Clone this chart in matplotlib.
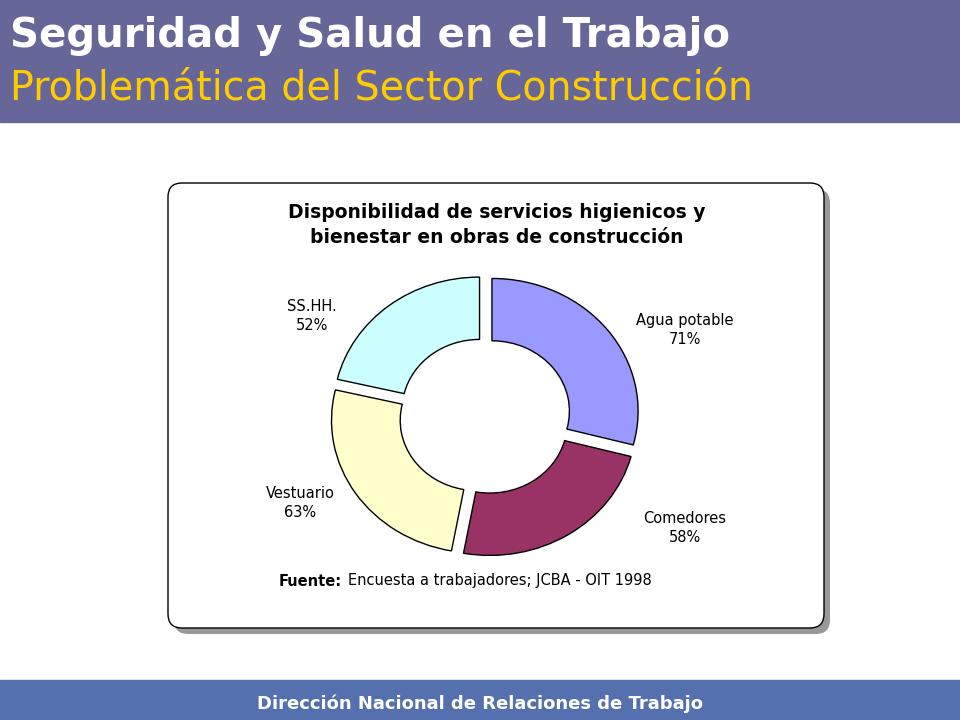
import matplotlib
matplotlib.use("Agg")
import matplotlib.pyplot as plt
from matplotlib.patches import FancyBboxPatch, Rectangle

categories = ["Agua potable", "Comedores", "Vestuario", "SS.HH."]
values = [71, 58, 63, 52]
colors = ["#9999FF", "#993366", "#FFFFCC", "#CCFFFF"]
label_pos = [(685, 330), (685, 528), (300, 503), (312, 316)]

W, H = 960, 720
fig = plt.figure(figsize=(9.6, 7.2), dpi=100)
bg = fig.add_axes([0, 0, 1, 1])
bg.set_xlim(0, W); bg.set_ylim(H, 0); bg.axis("off")
bg.add_patch(Rectangle((0, 0), W, 122, color="#666699"))
bg.add_patch(Rectangle((0, 680), W, 40, color="#5470AE"))
bg.text(10, 36, "Seguridad y Salud en el Trabajo", color="white", fontsize=29,
        fontweight="bold", va="center", family="DejaVu Sans")
bg.text(10, 89, "Problemática del Sector Construcción", color="#FFCC00", fontsize=28.5,
        va="center", family="DejaVu Sans")
bg.text(480, 704, "Dirección Nacional de Relaciones de Trabajo", color="white",
        fontsize=13, fontweight="bold", ha="center", va="center")
bg.add_patch(FancyBboxPatch((174, 189), 656, 445, boxstyle="round,pad=0,rounding_size=14",
                            fc="#999999", ec="none"))
bg.add_patch(FancyBboxPatch((168, 183), 656, 445, boxstyle="round,pad=0,rounding_size=14",
                            fc="white", ec="black", lw=1))
bg.text(497, 225, "Disponibilidad de servicios higienicos y\nbienestar en obras de construcción",
        ha="center", va="center", fontsize=13.5, fontweight="bold", linespacing=1.35)
bg.text(279, 581, "Fuente:", fontsize=10.5, fontweight="bold", va="center")
bg.text(348, 581, "Encuesta a trabajadores; JCBA - OIT 1998", fontsize=10.5, va="center")
for (x, y), c, v in zip(label_pos, categories, values):
    bg.text(x, y, f"{c}\n{v}%", ha="center", va="center", fontsize=10.5, linespacing=1.4)

cx, cy, sx, sy = 485, 416, 380, 345
ax = fig.add_axes([(cx - sx/2)/W, (H - cy - sy/2)/H, sx/W, sy/H])
ax.pie(values, colors=colors, startangle=90, counterclock=False,
       explode=[0.06]*4, wedgeprops=dict(width=0.47, edgecolor="black", linewidth=1))
ax.set_xlim(-1.3, 1.3); ax.set_ylim(-1.3, 1.3); ax.set_aspect("auto")
ax.axis("off")
fig.savefig("out.png", dpi=100)
